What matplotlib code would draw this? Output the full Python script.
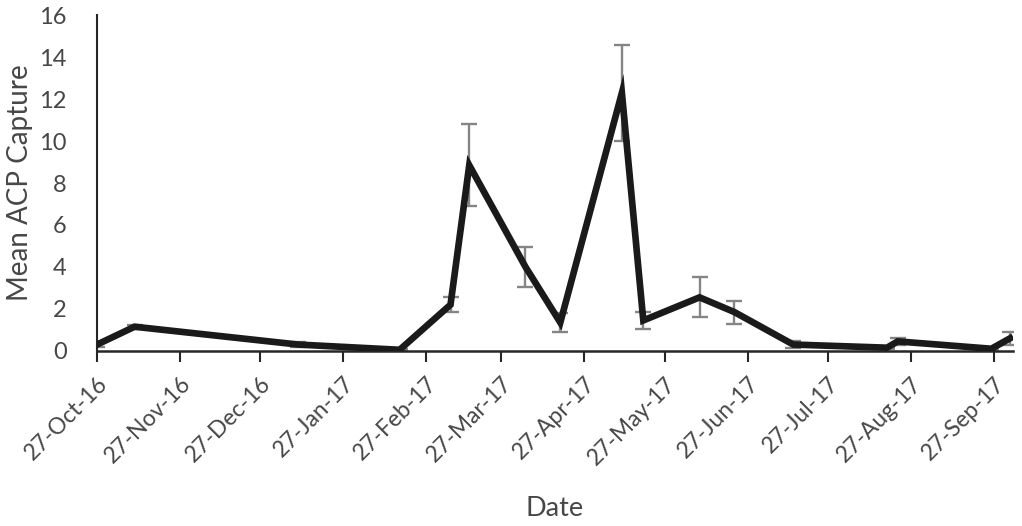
import matplotlib
matplotlib.use("Agg")
import matplotlib.pyplot as plt
import matplotlib.dates as mdates
import numpy as np
import datetime as dt

# sample dates and mean capture
dates = ["2016-10-27", "2016-11-10", "2017-01-10", "2017-02-17", "2017-03-08",
         "2017-03-15", "2017-04-05", "2017-04-18", "2017-05-11", "2017-05-19",
         "2017-06-09", "2017-06-22", "2017-07-14", "2017-08-18", "2017-08-22",
         "2017-09-26", "2017-10-03"]
mean_capture = [0.3, 1.15, 0.3, 0.05, 2.2, 8.85, 4.0, 1.35, 12.3, 1.45,
                2.55, 1.85, 0.3, 0.15, 0.45, 0.1, 0.6]
std_err = [0.1, 0.1, 0.1, 0.05, 0.35, 1.95, 0.95, 0.45, 2.3, 0.4,
           0.95, 0.55, 0.15, 0.05, 0.15, 0.05, 0.3]

tick_dates = ["2016-10-27", "2016-11-27", "2016-12-27", "2017-01-27", "2017-02-27",
              "2017-03-27", "2017-04-27", "2017-05-27", "2017-06-27", "2017-07-27",
              "2017-08-27", "2017-09-27"]

x = [dt.datetime.strptime(d, "%Y-%m-%d") for d in dates]
xt = [dt.datetime.strptime(d, "%Y-%m-%d") for d in tick_dates]

plt.rcParams['font.family'] = ['Lato', 'DejaVu Sans']
txt_col = '#474747'

fig = plt.figure(figsize=(10.22, 5.26), dpi=100)
ax = fig.add_axes([0.095, 0.333, 0.896, 0.638])

ax.errorbar(x, mean_capture, yerr=std_err, fmt='none', ecolor='#858585',
            elinewidth=1.7, capsize=6, capthick=1.7, zorder=2)
ax.plot(x, mean_capture, color='#1a1a1a', lw=4.8, solid_joinstyle='miter', zorder=3)

ax.set_xlim(dt.datetime(2016, 10, 27), dt.datetime(2017, 10, 4))
ax.set_ylim(0, 16)
ax.set_yticks(np.arange(0, 17, 2))
ax.set_xticks(xt)
ax.xaxis.set_major_formatter(mdates.DateFormatter('%d-%b-%y'))

for s in ['top', 'right']:
    ax.spines[s].set_visible(False)
ax.spines['left'].set_color('#262626')
ax.spines['bottom'].set_color('#262626')
ax.spines['left'].set_linewidth(1.5)
ax.spines['bottom'].set_linewidth(1.8)

ax.tick_params(axis='y', length=0, pad=22, labelsize=17, labelcolor=txt_col)
ax.tick_params(axis='x', length=8, width=1.5, color='#262626', pad=8,
               labelsize=16.5, labelcolor=txt_col)
plt.setp(ax.get_xticklabels(), rotation=45, ha='right', rotation_mode='anchor')

ax.set_ylabel('Mean ACP Capture', fontsize=20, color=txt_col, labelpad=4)
ax.set_xlabel('Date', fontsize=19.5, color=txt_col, labelpad=20)

fig.savefig('out.png', dpi=100)
